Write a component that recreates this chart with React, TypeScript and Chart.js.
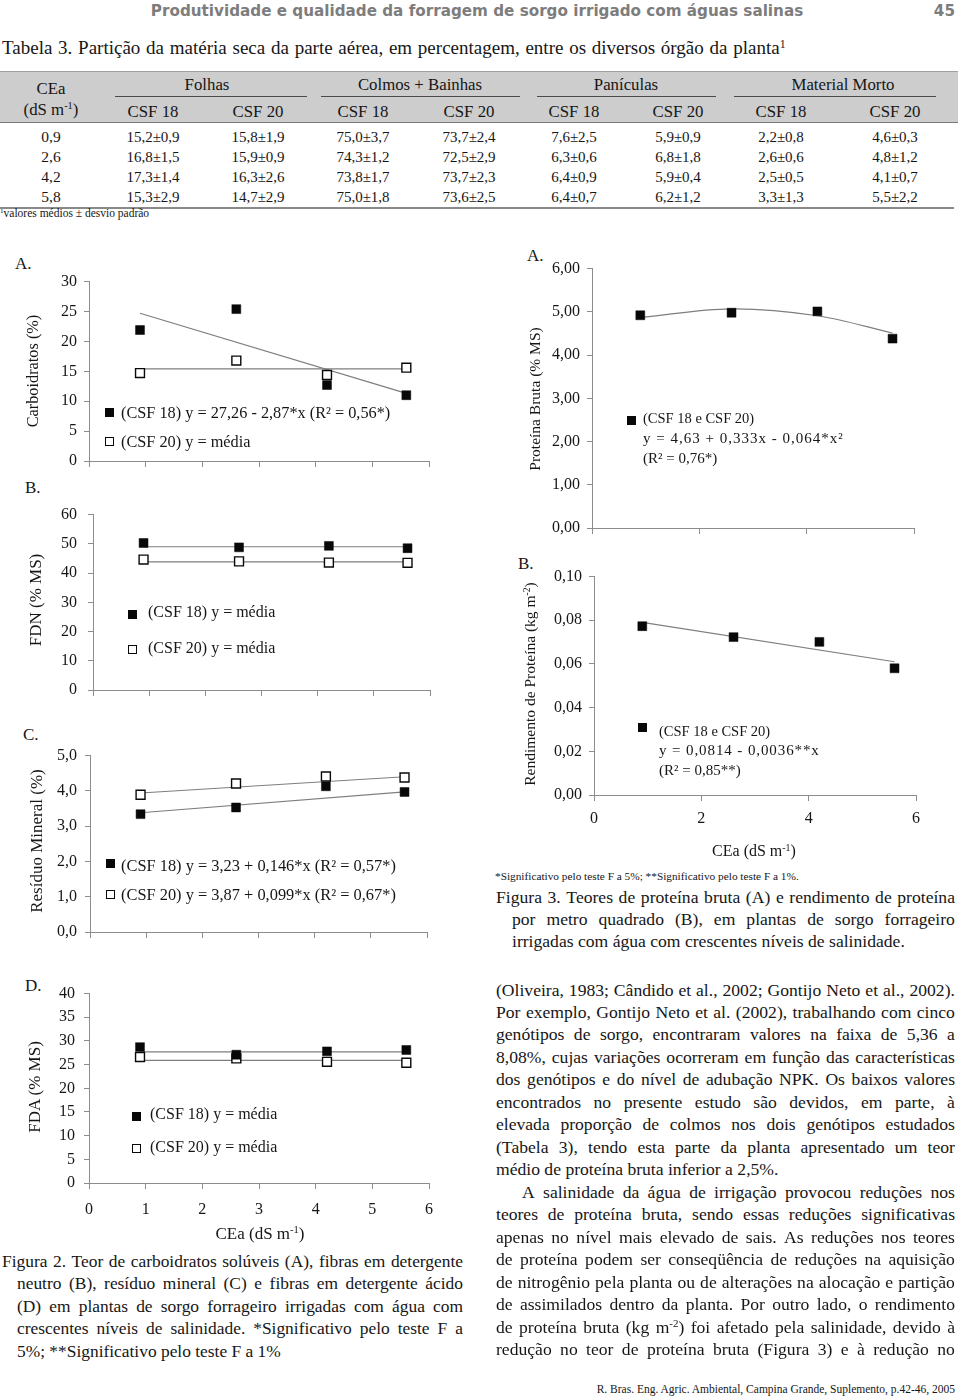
import React, { useEffect, useRef } from 'react';
import { Chart, registerables } from 'chart.js';

Chart.register(...registerables);

const SERIF = '"Liberation Serif", "Times New Roman", Times, serif';
const SANS = '"DejaVu Sans", Verdana, sans-serif';
const INK = '#161616';
const AXIS = '#8c8c8c';
const TREND = '#7e7e7e';

// ---------------- data ----------------
const ceaLevels = [0.9, 2.6, 4.2, 5.6];
const fitRange = [0.9, 5.6];

const carbCSF18 = [21.9, 25.4, 12.7, 11.0];
const carbCSF20 = [14.7, 16.8, 14.4, 15.6];
const carbFit18 = [24.7, 11.3];
const carbMean20 = [15.4, 15.4];

const fdnCSF18 = [50.3, 48.8, 49.3, 48.5];
const fdnCSF20 = [44.6, 44.0, 43.6, 43.5];
const fdnMean18 = [49.0, 49.0];
const fdnMean20 = [43.8, 43.8];

const rmCSF18 = [3.34, 3.53, 4.13, 3.97];
const rmCSF20 = [3.89, 4.21, 4.41, 4.38];
const rmFit18 = [3.38, 3.97];
const rmFit20 = [3.94, 4.4];

const fdaCSF18 = [28.7, 27.1, 27.8, 28.1];
const fdaCSF20 = [26.6, 26.3, 25.6, 25.4];
const fdaMean18 = [27.7, 27.7];
const fdaMean20 = [25.9, 25.9];

const pbValues = [4.92, 4.98, 5.01, 4.38];
const pbFit = [4.87, 5.07, 4.91, 4.51];

const rpValues = [0.0773, 0.0723, 0.0701, 0.058];
const rpFit = [0.079, 0.061];

// table 3
const tableGroups = ['Folhas', 'Colmos + Bainhas', 'Panículas', 'Material Morto'];
const tableSubs = ['CSF 18', 'CSF 20', 'CSF 18', 'CSF 20', 'CSF 18', 'CSF 20', 'CSF 18', 'CSF 20'];
const tableCEa = ['0,9', '2,6', '4,2', '5,8'];
const folhasCSF18 = ['15,2±0,9', '16,8±1,5', '17,3±1,4', '15,3±2,9'];
const folhasCSF20 = ['15,8±1,9', '15,9±0,9', '16,3±2,6', '14,7±2,9'];
const colmosCSF18 = ['75,0±3,7', '74,3±1,2', '73,8±1,7', '75,0±1,8'];
const colmosCSF20 = ['73,7±2,4', '72,5±2,9', '73,7±2,3', '73,6±2,5'];
const paniculasCSF18 = ['7,6±2,5', '6,3±0,6', '6,4±0,9', '6,4±0,7'];
const paniculasCSF20 = ['5,9±0,9', '6,8±1,8', '5,9±0,4', '6,2±1,2'];
const mortoCSF18 = ['2,2±0,8', '2,6±0,6', '2,5±0,5', '3,3±1,3'];
const mortoCSF20 = ['4,6±0,3', '4,8±1,2', '4,1±0,7', '5,5±2,2'];

const bodyLines = [
  '(Oliveira, 1983; Cândido et al., 2002; Gontijo Neto et al., 2002).',
  'Por exemplo, Gontijo Neto et al. (2002), trabalhando com cinco',
  'genótipos de sorgo, encontraram valores na faixa de 5,36 a',
  '8,08%, cujas variações ocorreram em função das características',
  'dos genótipos e do nível de adubação NPK. Os baixos valores',
  'encontrados no presente estudo são devidos, em parte, à',
  'elevada proporção de colmos nos dois genótipos estudados',
  '(Tabela 3), tendo esta parte da planta apresentado um teor',
  'médio de proteína bruta inferior a 2,5%.',
  'A salinidade da água de irrigação provocou reduções nos',
  'teores de proteína bruta, sendo essas reduções significativas',
  'apenas no nível mais elevado de sais. As reduções nos teores',
  'de proteína podem ser conseqüência de reduções na aquisição',
  'de nitrogênio pela planta ou de alterações na alocação e partição',
  'de assimilados dentro da planta. Por outro lado, o rendimento',
  'de proteína bruta (kg m^-2^) foi afetado pela salinidade, devido à',
  'redução no teor de proteína bruta (Figura 3) e à redução no',
];

const fig2Lines = [
  'Figura 2. Teor de carboidratos solúveis (A), fibras em detergente',
  'neutro (B), resíduo mineral (C) e fibras em detergente ácido',
  '(D) em plantas de sorgo forrageiro irrigadas com água com',
  'crescentes níveis de salinidade. *Significativo pelo teste F a',
  '5%; **Significativo pelo teste F a 1%',
];

const fig3Lines = [
  'Figura 3. Teores de proteína bruta (A) e rendimento de proteína',
  'por metro quadrado (B), em plantas de sorgo forrageiro',
  'irrigadas com água com crescentes níveis de salinidade.',
];

// ---------------- chart helper ----------------
type DS = { kind: 'filled' | 'open' | 'line'; xs: number[]; ys: number[]; tension?: number };
type Spec = {
  L: number; T: number; R: number; B: number;
  xStep: number; xLabels: boolean; xPad: number;
  yMax: number; yStep: number; yDec: number; yPad: number;
  ds: DS[];
};

const PL = 80, PT = 14, PR = 16, PB = 44;

function Plot({ spec }: { spec: Spec }) {
  const ref = useRef<HTMLCanvasElement | null>(null);
  const w = spec.R - spec.L + PL + PR;
  const h = spec.B - spec.T + PT + PB;
  useEffect(() => {
    if (!ref.current) return;
    const font = { family: SERIF, size: 16 };
    const datasets: any[] = spec.ds.map((d) => {
      const data = d.xs.map((x, i) => ({ x, y: d.ys[i] }));
      if (d.kind === 'line') {
        return {
          data, showLine: true, borderColor: TREND, backgroundColor: TREND,
          borderWidth: 1.2, pointRadius: 0, tension: d.tension || 0, fill: false,
        };
      }
      const fillC = d.kind === 'filled' ? '#080808' : '#ffffff';
      return {
        data, showLine: false, pointStyle: 'rect', pointRadius: 6.3,
        backgroundColor: fillC, borderColor: '#080808',
        pointBackgroundColor: fillC, pointBorderColor: '#080808',
        borderWidth: d.kind === 'filled' ? 0.5 : 1.4,
        pointBorderWidth: d.kind === 'filled' ? 0.5 : 1.4,
      };
    });
    const chart = new Chart(ref.current, {
      type: 'scatter',
      data: { datasets },
      options: {
        responsive: false,
        animation: false,
        events: [],
        layout: { padding: { left: 0, top: PT, right: PR, bottom: 0 } },
        plugins: { legend: { display: false }, tooltip: { enabled: false } },
        scales: {
          x: {
            type: 'linear', min: 0, max: 6,
            ticks: {
              stepSize: spec.xStep, autoSkip: false, maxRotation: 0,
              callback: (v: any) => (spec.xLabels ? String(v) : ''),
              font, color: INK, padding: spec.xPad,
            },
            grid: { drawOnChartArea: false, drawTicks: true, tickLength: 6, color: AXIS, lineWidth: 1 },
            border: { display: true, color: AXIS, width: 1 },
            afterFit: (s: any) => { s.height = PB; },
          },
          y: {
            type: 'linear', min: 0, max: spec.yMax,
            ticks: {
              stepSize: spec.yStep, autoSkip: false,
              callback: (v: any) => Number(v).toFixed(spec.yDec).replace('.', ','),
              font, color: INK, padding: spec.yPad,
            },
            grid: { drawOnChartArea: false, drawTicks: true, tickLength: 5, color: AXIS, lineWidth: 1 },
            border: { display: true, color: AXIS, width: 1 },
            afterFit: (s: any) => { s.width = PL; },
          },
        },
      } as any,
    });
    return () => chart.destroy();
  }, []);
  return (
    <canvas
      ref={ref}
      width={w}
      height={h}
      style={{ position: 'absolute', left: spec.L - PL, top: spec.T - PT, width: w, height: h }}
    />
  );
}

// ---------------- text helpers ----------------
function Sup({ children }: { children: any }) {
  return <span style={{ fontSize: '0.62em', position: 'relative', top: '-0.55em' }}>{children}</span>;
}

function word(w: string) {
  if (w.indexOf('^') >= 0) {
    const [a, b, c] = w.split('^');
    return (<>{a}<Sup>{b}</Sup>{c}</>);
  }
  return w;
}

function Tx(props: {
  x: number; y: number; size?: number; align?: 'left' | 'center' | 'right';
  family?: string; weight?: number; color?: string; ls?: number; ws?: number; children: any;
}) {
  const { x, y, size = 17, align = 'left', family = SERIF, weight = 400, color = INK, ls = 0, ws = 0 } = props;
  const tx = align === 'left' ? '0' : align === 'center' ? '-50%' : '-100%';
  return (
    <div style={{
      position: 'absolute', left: x, top: y, transform: `translate(${tx}, -50%)`,
      fontSize: size, fontFamily: family, fontWeight: weight, color, lineHeight: 1,
      whiteSpace: 'nowrap', letterSpacing: ls, wordSpacing: ws,
    }}>{props.children}</div>
  );
}

function VTx({ x, y, size = 16, children }: { x: number; y: number; size?: number; children: any }) {
  return (
    <div style={{
      position: 'absolute', left: x, top: y, transform: 'translate(-50%, -50%) rotate(-90deg)',
      fontSize: size, fontFamily: SERIF, color: INK, lineHeight: 1, whiteSpace: 'nowrap',
    }}>{children}</div>
  );
}

function JLine({ x, y, w, size, text }: { x: number; y: number; w: number; size: number; text: string }) {
  const words = text.split(' ');
  return (
    <div style={{
      position: 'absolute', left: x, top: y, width: w, transform: 'translateY(-50%)',
      display: 'flex', justifyContent: 'space-between', fontSize: size, fontFamily: SERIF,
      color: INK, lineHeight: 1, whiteSpace: 'nowrap',
    }}>
      {words.map((wd, i) => <span key={i}>{word(wd)}</span>)}
    </div>
  );
}

function Mk({ x, y, filled }: { x: number; y: number; filled: boolean }) {
  return (
    <div style={{
      position: 'absolute', left: x - 4.5, top: y - 4.5, width: 9, height: 9, boxSizing: 'border-box',
      background: filled ? '#080808' : '#ffffff', border: '1.4px solid #080808',
    }} />
  );
}

function HLine({ x1, x2, y, color = '#555', th = 1 }: { x1: number; x2: number; y: number; color?: string; th?: number }) {
  return <div style={{ position: 'absolute', left: x1, top: y, width: x2 - x1, height: th, background: color }} />;
}

// ---------------- chart specs ----------------
const specA: Spec = {
  L: 89, T: 279, R: 429, B: 461, xStep: 1, xLabels: false, xPad: 8, yMax: 30, yStep: 5, yDec: 0, yPad: 7,
  ds: [
    { kind: 'filled', xs: ceaLevels, ys: carbCSF18 },
    { kind: 'open', xs: ceaLevels, ys: carbCSF20 },
    { kind: 'line', xs: fitRange, ys: carbFit18 },
    { kind: 'line', xs: fitRange, ys: carbMean20 },
  ],
};
const specB: Spec = {
  L: 93, T: 508, R: 430, B: 690, xStep: 1, xLabels: false, xPad: 8, yMax: 60, yStep: 10, yDec: 0, yPad: 11,
  ds: [
    { kind: 'filled', xs: ceaLevels, ys: fdnCSF18 },
    { kind: 'open', xs: ceaLevels, ys: fdnCSF20 },
    { kind: 'line', xs: fitRange, ys: fdnMean18 },
    { kind: 'line', xs: fitRange, ys: fdnMean20 },
  ],
};
const specC: Spec = {
  L: 90, T: 752, R: 427, B: 932, xStep: 1, xLabels: false, xPad: 8, yMax: 5, yStep: 1, yDec: 1, yPad: 8,
  ds: [
    { kind: 'filled', xs: ceaLevels, ys: rmCSF18 },
    { kind: 'open', xs: ceaLevels, ys: rmCSF20 },
    { kind: 'line', xs: fitRange, ys: rmFit18 },
    { kind: 'line', xs: fitRange, ys: rmFit20 },
  ],
};
const specD: Spec = {
  L: 89, T: 989, R: 429, B: 1183, xStep: 1, xLabels: true, xPad: 11, yMax: 40, yStep: 5, yDec: 0, yPad: 9,
  ds: [
    { kind: 'filled', xs: ceaLevels, ys: fdaCSF18 },
    { kind: 'open', xs: ceaLevels, ys: fdaCSF20 },
    { kind: 'line', xs: fitRange, ys: fdaMean18 },
    { kind: 'line', xs: fitRange, ys: fdaMean20 },
  ],
};
const specPB: Spec = {
  L: 592, T: 266, R: 914, B: 528, xStep: 2, xLabels: false, xPad: 8, yMax: 6, yStep: 1, yDec: 2, yPad: 7,
  ds: [
    { kind: 'filled', xs: ceaLevels, ys: pbValues },
    { kind: 'line', xs: ceaLevels, ys: pbFit, tension: 0.35 },
  ],
};
const specRP: Spec = {
  L: 594, T: 574, R: 916, B: 795, xStep: 2, xLabels: true, xPad: 8, yMax: 0.1, yStep: 0.02, yDec: 2, yPad: 7,
  ds: [
    { kind: 'filled', xs: ceaLevels, ys: rpValues },
    { kind: 'line', xs: fitRange, ys: rpFit },
  ],
};

const colX = [153, 258, 363, 469, 574, 678, 781, 895];
const groupX = [207, 420, 626, 843];
const groupLines = [[115, 307], [321, 520], [537, 716], [734, 936]];
const rowY = [137, 157, 177, 197];

export default function App() {
  const cols = [folhasCSF18, folhasCSF20, colmosCSF18, colmosCSF20, paniculasCSF18, paniculasCSF20, mortoCSF18, mortoCSF20];
  const m1 = <>m<Sup>-1</Sup></>;
  return (
    <div style={{ position: 'absolute', left: 0, top: 0, width: 960, height: 1399, overflow: 'hidden', background: '#fff' }}>
      {/* running head */}
      <Tx x={477} y={12} size={15.2} align="center" family={SANS} weight={700} color="#7d7d7d">
        Produtividade e qualidade da forragem de sorgo irrigado com águas salinas
      </Tx>
      <Tx x={955} y={12} size={15.2} align="right" family={SANS} weight={700} color="#7d7d7d">45</Tx>

      {/* table 3 */}
      <Tx x={2} y={47} size={19} ws={1}>
        Tabela 3. Partição da matéria seca da parte aérea, em percentagem, entre os diversos órgão da planta<Sup>1</Sup>
      </Tx>
      <div style={{ position: 'absolute', left: 0, top: 71, width: 958, height: 52, background: '#cdcdcd', borderTop: '1px solid #a0a0a0', borderBottom: '1.5px solid #7a7a7a', boxSizing: 'border-box' }} />
      <Tx x={51} y={89} size={16.8} align="center">CEa</Tx>
      <Tx x={51} y={110} size={16.8} align="center">(dS {m1})</Tx>
      {tableGroups.map((g, i) => (
        <Tx key={g} x={groupX[i]} y={85} size={16.8} align="center">{g}</Tx>
      ))}
      {groupLines.map((l, i) => (
        <HLine key={i} x1={l[0]} x2={l[1]} y={96} color="#4a4a4a" />
      ))}
      {tableSubs.map((s, i) => (
        <Tx key={i} x={colX[i]} y={112} size={16.8} align="center">{s}</Tx>
      ))}
      {tableCEa.map((c, r) => (
        <Tx key={'c' + r} x={51} y={rowY[r]} size={15.5} align="center">{c}</Tx>
      ))}
      {cols.map((col, ci) => col.map((v, r) => (
        <Tx key={ci + '-' + r} x={colX[ci]} y={rowY[r]} size={15} align="center">{v}</Tx>
      )))}
      <HLine x1={0} x2={954} y={207} color="#8a8a8a" th={1.5} />
      <Tx x={0} y={214} size={11.5}><Sup>1</Sup>valores médios ± desvio padrão</Tx>

      {/* figure 2 */}
      <Tx x={15} y={263} size={17}>A.</Tx>
      <Tx x={25} y={487} size={17}>B.</Tx>
      <Tx x={23} y={734} size={17}>C.</Tx>
      <Tx x={25} y={985} size={17}>D.</Tx>

      <Plot spec={specA} />
      <Plot spec={specB} />
      <Plot spec={specC} />
      <Plot spec={specD} />

      <VTx x={33} y={371} size={16.3}>Carboidratos (%)</VTx>
      <VTx x={35} y={600} size={17}>FDN (% MS)</VTx>
      <VTx x={36} y={841} size={17}>Resíduo Mineral (%)</VTx>
      <VTx x={34} y={1087} size={17}>FDA (% MS)</VTx>

      <Mk x={109} y={412} filled />
      <Tx x={121} y={413} size={16.3}>(CSF 18) y = 27,26 - 2,87*x (R² = 0,56*)</Tx>
      <Mk x={109} y={441} filled={false} />
      <Tx x={121} y={442} size={16.3}>(CSF 20) y = média</Tx>

      <Mk x={132} y={614} filled />
      <Tx x={148} y={612} size={16}>(CSF 18) y = média</Tx>
      <Mk x={132} y={649} filled={false} />
      <Tx x={148} y={648} size={16}>(CSF 20) y = média</Tx>

      <Mk x={110} y={863} filled />
      <Tx x={121} y={866} size={16.4}>(CSF 18) y = 3,23 + 0,146*x (R² = 0,57*)</Tx>
      <Mk x={110} y={894} filled={false} />
      <Tx x={121} y={895} size={16.4}>(CSF 20) y = 3,87 + 0,099*x (R² = 0,67*)</Tx>

      <Mk x={136} y={1116} filled />
      <Tx x={150} y={1114} size={16}>(CSF 18) y = média</Tx>
      <Mk x={136} y={1148} filled={false} />
      <Tx x={150} y={1147} size={16}>(CSF 20) y = média</Tx>

      <Tx x={260} y={1233} size={17} align="center">CEa (dS {m1})</Tx>

      {fig2Lines.map((t, i) => (
        i < fig2Lines.length - 1
          ? <JLine key={i} x={i === 0 ? 2 : 17} y={1262 + i * 22.4} w={i === 0 ? 461 : 446} size={17.4} text={t} />
          : <Tx key={i} x={17} y={1262 + i * 22.4} size={17.4}>{t}</Tx>
      ))}

      {/* figure 3 */}
      <Tx x={527} y={255} size={17}>A.</Tx>
      <Tx x={518} y={563} size={17}>B.</Tx>
      <Plot spec={specPB} />
      <Plot spec={specRP} />
      <VTx x={535} y={399} size={15.5}>Proteína Bruta (% MS)</VTx>
      <VTx x={530} y={684} size={15.5}>Rendimento de Proteína (kg m<Sup>-2</Sup>)</VTx>

      <Mk x={631} y={420} filled />
      <Tx x={643} y={418} size={14.5}>(CSF 18 e CSF 20)</Tx>
      <Tx x={643} y={438} size={15} ls={1}>y = 4,63 + 0,333x - 0,064*x²</Tx>
      <Tx x={643} y={458} size={15}>(R² = 0,76*)</Tx>

      <Mk x={642} y={727} filled />
      <Tx x={659} y={731} size={14.5}>(CSF 18 e CSF 20)</Tx>
      <Tx x={659} y={750} size={15} ls={0.9}>y = 0,0814 - 0,0036**x</Tx>
      <Tx x={659} y={770} size={15}>(R² = 0,85**)</Tx>

      <Tx x={754} y={851} size={16} align="center">CEa (dS {m1})</Tx>
      <Tx x={495} y={877} size={11.3}>*Significativo pelo teste F a 5%; **Significativo pelo teste F a 1%.</Tx>
      {fig3Lines.map((t, i) => (
        i < fig3Lines.length - 1
          ? <JLine key={i} x={i === 0 ? 496 : 512} y={898 + i * 21.8} w={i === 0 ? 459 : 443} size={17.6} text={t} />
          : <Tx key={i} x={512} y={898 + i * 21.8} size={17.6}>{t}</Tx>
      ))}

      {/* body text */}
      {bodyLines.map((t, i) => {
        const y = 990.5 + i * 22.47;
        if (i === 8) return <Tx key={i} x={496} y={y} size={17.6}>{t}</Tx>;
        if (i === 9) return <JLine key={i} x={522} y={y} w={433} size={17.6} text={t} />;
        return <JLine key={i} x={496} y={y} w={459} size={17.6} text={t} />;
      })}

      <Tx x={955} y={1390} size={11.5} align="right">R. Bras. Eng. Agric. Ambiental, Campina Grande, Suplemento, p.42-46, 2005</Tx>
    </div>
  );
}
